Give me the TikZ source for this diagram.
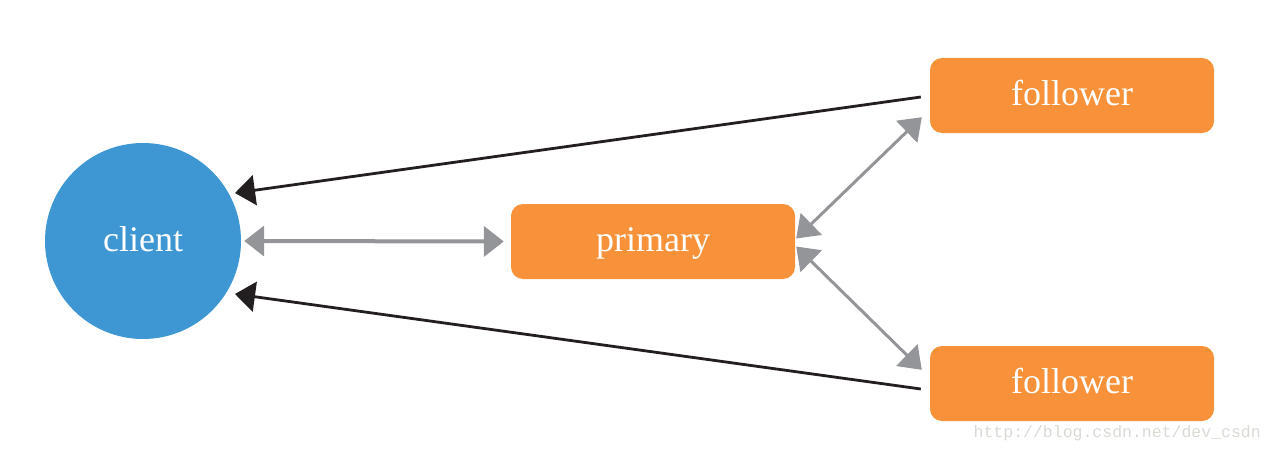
\documentclass[tikz,border=0pt]{standalone}
\usepackage{fontspec}
\setmainfont{Liberation Serif}
\newfontfamily\wmfont{Liberation Mono}
\usetikzlibrary{arrows.meta,calc}
\definecolor{cblue}{RGB}{62,151,211}
\definecolor{corange}{RGB}{247,146,58}
\definecolor{cgray}{RGB}{148,149,153}
\definecolor{cblack}{RGB}{35,31,32}
\definecolor{cwm}{RGB}{218,218,212}
\tikzset{
  lbl/.style={text=white, font=\fontsize{36}{40}\selectfont, text height=26pt, text depth=6pt},
  box/.style={lbl, fill=corange, rounded corners=12pt, minimum width=284pt, minimum height=75pt, inner sep=0pt},
  clientnode/.style={lbl, circle, fill=cblue, minimum size=196pt, inner sep=0pt},
  grayarrow/.style={draw=cgray, line width=4pt, {Triangle[length=20pt,width=30pt]}-{Triangle[length=20pt,width=30pt]}},
  grayarrowthin/.style={draw=cgray, line width=3pt, {Triangle[length=21pt,width=30pt]}-{Triangle[length=21pt,width=30pt]}},
  blackarrow/.style={draw=cblack, line width=2.8pt, -{Triangle[length=20pt,width=30pt]}},
}
\begin{document}
\begin{tikzpicture}[x=1pt,y=-1pt]
\useasboundingbox (0,0) rectangle (1272,452);
\node[clientnode] (c) at (143,241) {client};
\node[box] (p) at (653,241.5) {primary};
\node[box] (f1) at (1072,95.5) {follower};
\node[box] (f2) at (1072,383.5) {follower};
\draw[grayarrow, shorten <=3pt, shorten >=7pt] (c.east) -- (p.west);
\draw[grayarrowthin] ($(p.east)+(1,-3)$) -- ($(f1.south west)+(-8,-16)$);
\draw[grayarrowthin] ($(p.east)+(1,5)$) -- ($(f2.north west)+(-8,24)$);
\draw[blackarrow] ($(f1.west)+(-9,1.5)$) -- ($(c.center)+(92,-48)$);
\draw[blackarrow] ($(f2.west)+(-9,5.5)$) -- ($(c.center)+(92,53)$);
\node[font=\wmfont\fontsize{16.5}{18}\selectfont, text=cwm, anchor=east, inner sep=0pt] (wm) at (1261,433) {http://blog.csdn.net/dev\_csdn};
\end{tikzpicture}
\end{document}
